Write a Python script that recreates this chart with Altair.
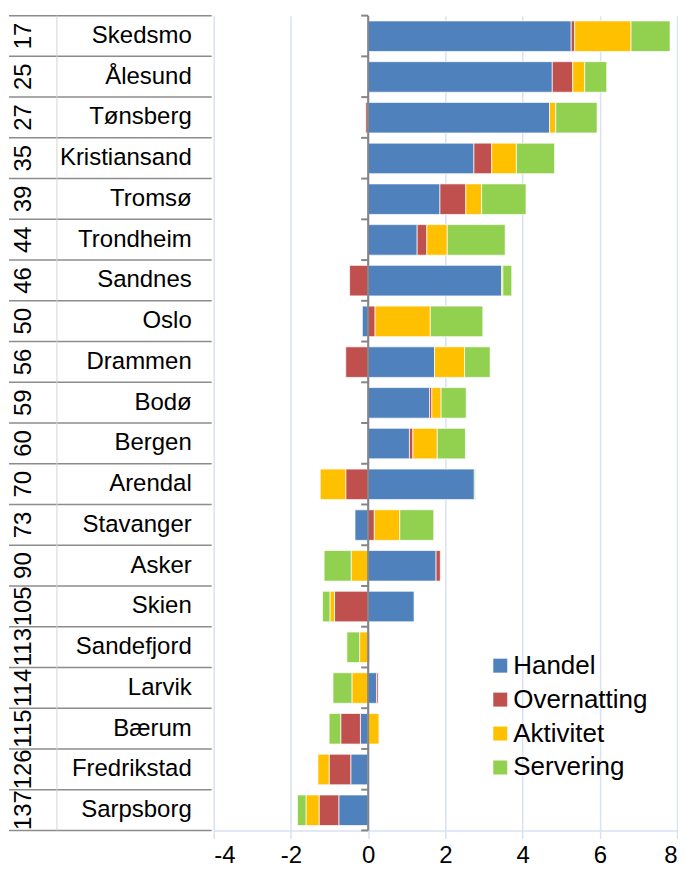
import altair as alt
import pandas as pd

cities = ["Skedsmo", "Ålesund", "Tønsberg", "Kristiansand", "Tromsø", "Trondheim",
          "Sandnes", "Oslo", "Drammen", "Bodø", "Bergen", "Arendal", "Stavanger",
          "Asker", "Skien", "Sandefjord", "Larvik", "Bærum", "Fredrikstad", "Sarpsborg"]
ranks = [17, 25, 27, 35, 39, 44, 46, 50, 56, 59, 60, 70, 73, 90, 105, 113, 114, 115, 126, 137]

handel = [5.26, 4.77, 4.70, 2.74, 1.86, 1.27, 3.46, -0.15, 1.72, 1.59, 1.07, 2.75, -0.34,
          1.76, 1.19, 0.05, 0.22, -0.20, -0.45, -0.76]
overnatting = [0.09, 0.53, -0.06, 0.46, 0.67, 0.25, -0.48, 0.18, -0.58, 0.06, 0.09, -0.58, 0.16,
               0.11, -0.87, 0.0, 0.04, -0.51, -0.56, -0.51]
aktivitet = [1.46, 0.31, 0.16, 0.64, 0.41, 0.53, 0.03, 1.43, 0.78, 0.24, 0.63, -0.66, 0.66,
             -0.44, -0.12, -0.22, -0.42, 0.28, -0.29, -0.34]
servering = [1.01, 0.57, 1.07, 0.99, 1.15, 1.50, 0.23, 1.36, 0.66, 0.65, 0.73, 0.03, 0.88,
             -0.70, -0.19, -0.33, -0.49, -0.30, 0.0, -0.22]

series = ["Handel", "Overnatting", "Aktivitet", "Servering"]
colors = ["#4f81bd", "#c0504d", "#ffc000", "#92d050"]
x_ticks = [-4, -2, 0, 2, 4, 6, 8]

rows = []
for s_i, (name, vals) in enumerate(zip(series, [handel, overnatting, aktivitet, servering])):
    for i, c in enumerate(cities):
        rows.append({"city": c, "idx": i, "series": name, "order": s_i, "value": vals[i]})
df = pd.DataFrame(rows)

labels_df = pd.DataFrame({"city": cities, "rank": [str(r) for r in ranks], "idx": list(range(len(cities)))})
n = len(cities)
bounds_df = pd.DataFrame({"b": list(range(n + 1)), "tx0": [-0.18] * (n + 1), "tx1": [0.0] * (n + 1)})
span_df = pd.DataFrame({"x": [0.0], "ya": [0], "yb": [n]})

FONT = "Liberation Sans"
xscale = alt.Scale(domain=[-4, 8], nice=False)
yscale = alt.Scale(domain=[0, 20], reverse=True, nice=False, zero=False)

bars = alt.Chart(df).transform_stack(
    stack="value", as_=["x0", "x1"], groupby=["city"], sort=[alt.SortField("order")]
).transform_calculate(
    y0="datum.idx + 0.13", y1="datum.idx + 0.88"
).mark_bar(stroke="white", strokeWidth=0.7).encode(
    x=alt.X("x0:Q", scale=xscale, axis=alt.Axis(
        values=x_ticks, title=None, grid=True, gridColor="#d9e2f1",
        gridWidth=1.5, domainColor="#d9e2f1", domainWidth=1.5, tickColor="#d9e2f1",
        tickWidth=1.5, tickSize=8, labelFontSize=24, labelFont=FONT, labelColor="black",
        labelPadding=5, labelExpr="datum.value + ''")),
    x2="x1:Q",
    y=alt.Y("y0:Q", scale=yscale, axis=None),
    y2="y1:Q",
    color=alt.Color("series:N", scale=alt.Scale(domain=series, range=colors),
                    legend=alt.Legend(orient="none", legendX=274, legendY=638, title=None,
                                      labelFontSize=26, labelFont=FONT, labelColor="black",
                                      symbolType="square", symbolSize=196, symbolStrokeWidth=0,
                                      rowPadding=8, labelOffset=0, padding=0)),
)

zero_line = alt.Chart(span_df).mark_rule(color="#868686", strokeWidth=2).encode(
    x=alt.X("x:Q", scale=xscale), y=alt.Y("ya:Q", scale=yscale, axis=None), y2="yb:Q"
)

zero_ticks = alt.Chart(bounds_df).mark_rule(color="#868686", strokeWidth=2).encode(
    x=alt.X("tx0:Q", scale=xscale), x2="tx1:Q", y=alt.Y("b:Q", scale=yscale, axis=None)
)

sep_lines = alt.Chart(bounds_df).mark_rule(color="#8c8c8c", strokeWidth=1.5).encode(
    x=alt.value(-205), x2=alt.value(-2), y=alt.Y("b:Q", scale=yscale, axis=None)
)

vsep = alt.Chart(span_df).mark_rule(color="#d4d4d4", strokeWidth=1).encode(
    x=alt.value(-157), y=alt.Y("ya:Q", scale=yscale, axis=None), y2="yb:Q"
)

city_text = alt.Chart(labels_df).transform_calculate(yc="datum.idx + 0.5").mark_text(
    align="right", baseline="middle", fontSize=24, font=FONT, color="black"
).encode(
    x=alt.value(-22), y=alt.Y("yc:Q", scale=yscale, axis=None), text="city:N"
)

rank_text = alt.Chart(labels_df).transform_calculate(yc="datum.idx + 0.5").mark_text(
    align="center", baseline="middle", angle=270, fontSize=24, font=FONT, color="black"
).encode(
    x=alt.value(-190), y=alt.Y("yc:Q", scale=yscale, axis=None), text="rank:N"
)

chart = alt.layer(bars, sep_lines, vsep, zero_line, zero_ticks, city_text, rank_text).properties(
    width=464, height=816,
    padding={"left": 0, "top": 6, "right": 0, "bottom": 0},
).configure_view(stroke=None)

chart.save("out.html", embed_options={"renderer": "svg", "actions": False})
